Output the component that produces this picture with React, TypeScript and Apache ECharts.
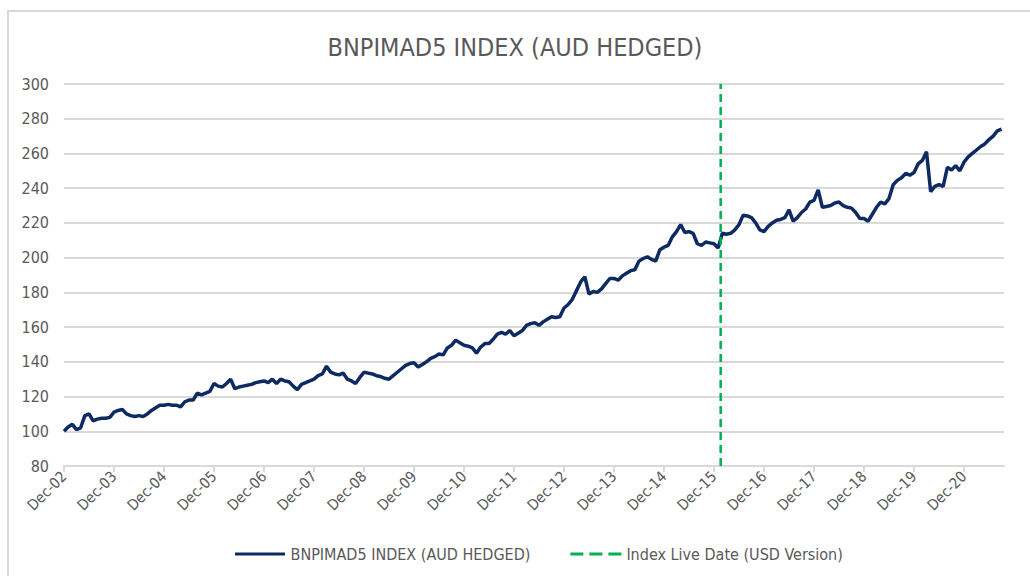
import React, { useEffect, useRef } from "react";
import * as echarts from "echarts";

// Month index 0 = Dec-02, one value per month
const indexValues: number[] = [
  100, 102.5, 104, 101, 102, 109, 110, 106, 107, 107.5, 107.5, 108,
  111, 112, 112.5, 110, 109, 108.5, 109, 108.5, 110, 112, 113.5, 115,
  115, 115.5, 115, 115, 114, 117, 118, 118, 122, 121, 122, 123,
  127.5, 126, 125.5, 127.5, 130, 124.5, 125.5, 126, 126.5, 127, 128, 128.5,
  129, 128, 130, 127.5, 130, 129, 128.5, 126, 124, 127, 128, 129,
  130, 132, 133, 137.5, 134, 133, 132.5, 133.5, 130, 129, 127.5, 131,
  134, 133.5, 133, 132, 131.5, 130.5, 130, 132, 134, 136, 138, 139,
  139.5, 137, 138.5, 140, 142, 143, 144.5, 144, 148, 149.5, 152.5, 151,
  149.5, 149, 148, 145, 148.5, 150.5, 150.5, 153, 156, 157, 156, 158,
  155, 156.5, 158, 161, 162, 162.5, 161, 163, 164.5, 166, 165.5, 166,
  171, 173, 176, 181, 186, 189, 179, 180.5, 180, 182, 185, 188,
  188, 187, 189.5, 191, 192.5, 193, 198, 199.5, 200.5, 199, 198, 204.5,
  206, 207, 212, 215, 219, 214.5, 215, 214, 208, 207, 209, 208.5,
  208, 205.5, 214, 213.5, 214, 216, 219, 224.5, 224, 223, 220, 216,
  215, 218, 220, 221.5, 222, 223, 227.5, 221, 223, 226, 228, 232,
  233, 239, 229, 229.5, 230, 231.5, 232, 230, 229, 228.5, 226, 222.5,
  222.5, 221, 225, 229, 232, 231, 234, 242, 244.5, 246, 248.5, 247.5,
  249, 254, 256, 261, 238, 241, 242, 241, 252, 250.5, 253, 250,
  255, 258, 260, 262, 264, 265.5, 268, 270, 273, 274,
];

const yearLabels: string[] = [
  "Dec-02", "Dec-03", "Dec-04", "Dec-05", "Dec-06", "Dec-07", "Dec-08",
  "Dec-09", "Dec-10", "Dec-11", "Dec-12", "Dec-13", "Dec-14", "Dec-15",
  "Dec-16", "Dec-17", "Dec-18", "Dec-19", "Dec-20",
];

const liveDateMonth = 157.6; // Index live date (USD version), months after Dec-02
const yTicks = { min: 80, max: 300, interval: 20 };

const seriesName = "BNPIMAD5 INDEX (AUD HEDGED)";
const liveName = "Index Live Date (USD Version)";

const FONT = '"DejaVu Sans Condensed", "Liberation Sans Narrow", sans-serif';

const SOLID_ICON = "path://M0,0h50v3h-50z";
const DASH_ICON = "path://M0,0h13v3h-13z M19,0h13v3h-13z M38,0h13v3h-13z";

export default function App() {
  const ref = useRef<HTMLDivElement>(null);
  useEffect(() => {
    if (!ref.current) return;
    const chart = echarts.init(ref.current, null, { renderer: "svg" });
    const tickValues = yearLabels.map((_, i) => i * 12);
    const lineData = indexValues.map((v, i) => [i, v]);
    chart.setOption({
      animation: false,
      backgroundColor: "#ffffff",
      textStyle: { fontFamily: FONT },
      title: {
        text: seriesName,
        left: "center",
        top: 30,
        textStyle: { fontFamily: FONT, fontSize: 25, fontWeight: "normal", color: "#595959" },
      },
      graphic: [
        {
          type: "rect",
          shape: { x: 8, y: 11, width: 1100, height: 700 },
          style: { fill: "none", stroke: "#d9d9d9", lineWidth: 2 },
          silent: true,
          z: -10,
        },
      ],
      grid: { left: 64, right: 26, top: 84, bottom: 110, containLabel: false },
      legend: {
        top: 541,
        left: 230,
        itemWidth: 51,
        itemHeight: 3,
        itemGap: 40,
        textStyle: { fontFamily: FONT, fontSize: 16, color: "#595959" },
        data: [
          { name: seriesName, icon: SOLID_ICON },
          { name: liveName, icon: DASH_ICON },
        ],
      },
      xAxis: {
        type: "value",
        min: 0,
        max: 225.6,
        splitLine: { show: false },
        axisLine: { lineStyle: { color: "#d9d9d9", width: 2 } },
        axisTick: {
          show: true,
          customValues: tickValues,
          length: 6,
          lineStyle: { color: "#d9d9d9", width: 2 },
        },
        axisLabel: {
          customValues: tickValues,
          rotate: 45,
          fontFamily: FONT,
          fontSize: 15,
          color: "#595959",
          margin: 8,
          formatter: (v: number) => yearLabels[Math.round(v / 12)] ?? "",
        },
      },
      yAxis: {
        type: "value",
        min: yTicks.min,
        max: yTicks.max,
        interval: yTicks.interval,
        axisLine: { show: false },
        axisTick: { show: false },
        splitLine: { lineStyle: { color: "#d9d9d9", width: 2 } },
        axisLabel: { fontFamily: FONT, fontSize: 16, color: "#595959", margin: 15 },
      },
      series: [
        {
          name: seriesName,
          type: "line",
          data: lineData,
          showSymbol: false,
          symbol: "none",
          lineStyle: { color: "#0d2a63", width: 3.5 },
          itemStyle: { color: "#0d2a63" },
          z: 3,
        },
        {
          name: liveName,
          type: "line",
          data: [
            [liveDateMonth, yTicks.min],
            [liveDateMonth, yTicks.max],
          ],
          showSymbol: false,
          symbol: "none",
          lineStyle: { color: "#00b050", width: 2.5, type: [8, 5] },
          itemStyle: { color: "#00b050" },
          z: 4,
        },
      ],
    });
    return () => chart.dispose();
  }, []);
  return (
    <div
      ref={ref}
      style={{ position: "fixed", left: 0, top: 0, width: 1030, height: 576 }}
    />
  );
}
